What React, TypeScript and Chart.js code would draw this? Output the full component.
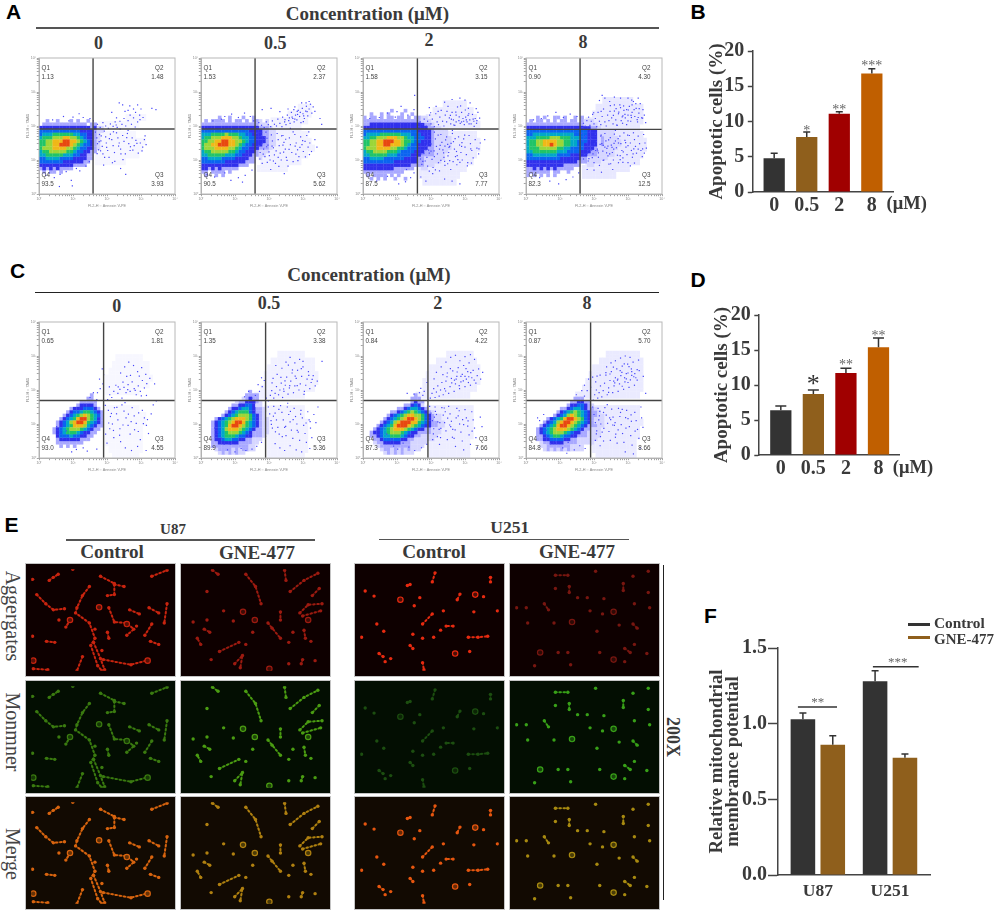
import React, { useEffect, useRef } from "react";
import { Chart, registerables } from "chart.js";
Chart.register(...registerables);

const SERIF = '"Liberation Serif"';
const SANS = '"Liberation Sans"';
const INK = "#3a3a3a";

/* ---------- flow cytometry: values ---------- */
const q1A = ["1.13", "1.53", "1.58", "0.90"];
const q2A = ["1.48", "2.37", "3.15", "4.30"];
const q3A = ["3.93", "5.62", "7.77", "12.5"];
const q4A = ["93.5", "90.5", "87.5", "82.3"];
const q1C = ["0.65", "1.35", "0.84", "0.87"];
const q2C = ["1.81", "3.38", "4.22", "5.70"];
const q3C = ["4.55", "5.36", "7.66", "8.66"];
const q4C = ["93.0", "89.9", "87.3", "84.8"];
const gateXA = [1.59, 1.59, 1.6, 1.59];
const gateYA = [1.91, 1.91, 1.91, 1.9];
const gateXC = [1.9, 1.9, 1.91, 1.9];
const gateYC = [1.69, 1.69, 1.69, 1.69];
const decades = [0, 1, 2, 3, 4];
const minorTicks = [0.3, 0.48, 0.6, 0.7, 0.78, 0.85, 0.9, 0.95];
const supers = ["\u2070", "\u00b9", "\u00b2", "\u00b3", "\u2074"];

/* density: rows from the top value down, 0.1 decade cells */
const densityColors: Record<string, string> = {
  ".": "#d6d6ff", "1": "#a8a8ff", "2": "#3030ec", "3": "#0a64f0", "4": "#00a8c8",
  "5": "#20c468", "6": "#9cd638", "7": "#f0b818", "8": "#e84810",
};
const topA = [2.15, 2.25, 2.45, 2.25];
const topC = [1.85, 1.95, 1.85, 1.75];
const leftA = [-0.15, -0.15, -0.15, -0.15];
const leftC = [-0.15, -0.15, -0.25, -0.15];
const densA0 = ["0000100100010100100", "0101111111111111011", "2222222222222222212..", "2233333333333322221..", "3334445555554433221.", "3445556667766543221.", "4455667778877654321.", "4455667788876543321.", "4456667777665433221.", "3445566666554332211", "3344555554443322110", "3333444433332222110", "2233333332222221100", "2222222222221111000", "1112121211110000000", "0101011010000000000"];
const densA1 = ["0000000100100010010000", "0001011110101101011.0.", "1111111111111111111...", "2222222222222222222111.", "2333333333333333222211..", "3344455556555443322211..", "3445566677766544332221..", "4455667788776654332221..", "4456677888776543322211..", "4456667777665433222111.", "3445566666554332221...", "3344555554443322211..", "3333444433332222110.", "2233333332222221110", "2222222222222111000", "1122121211111000000", "0111011110100000000", "0001001010000000000"];
const densA2 = ["0000000000100010000", "0000100101000100100", "0010110101101101011..", "0111111111111111111...", "1111222222222222222211.", "22222222222222222222211..", "23333333333333333322221....", "33344445555554443332221....", "34445566677766544333221.....", "44556677888776554332221.....", "44556677887776543322221.....", "44566677776655433322211.....", "34455666655543333222111....", "33445555544433332221111...", "33334444333333222211......", "22333333333222222211.....", "22222222222222221111...", "1122222222211111100..", "1111111111111100000", "0101011110101000000", "0000101010010010000"];
const densA3 = ["0000010100110100101", "0001011010101101101...", "1111111111111111111....", "22222222222222222222211.", "22333333333333333333222.....", "33334444444444443333222.....", "33444555566655544433222.1....", "34455667777665544333222.1.....", "34455667787665544332222.1.....", "34455566666554433332221......", "33445555555444333322211.....", "33334444444333322222111.....", "22333333333322222211......", "22222222222222222111....", "12222222222221111100..", "1111212121211111000", "0111111110110010000", "0010101010100000000"];
const densC0 = ["0000000000000000010000", "0000000000000000110000", "0000000000000011111000", "0000000000000122221000", "0000000000012223332100", "0000000000123345543210", "0000000001234567654310", "0000000012345788654210", "0000000123467887543210", "0000000123457776432110", "0000001234566654321100", "0000001234555432211000", "0000000233343322110000", "0000000122222211100000", "0000000111111110000000", "0000000010101000000000"];
const densC1 = ["0000000000000000100", "0000000000000001111", "00000000000000.1211", "000000000000.112221.", "000000000001122332..", "00000000001223443211.", "00000000012345553211.", "00000000123456665321.", "00000012345677765321..", "00000123456788754321..", "00000123457887654321..", "00000123467776543211..", "00000123456665432111..", "00000123455543322111.", "00000122344332211...", "00000112222221111..", "0000011111111111..", "000000.1111.1.11..", "0000000.1.1.1.."];
const densC2 = ["0000000000000000001", "00000000000000000111", "000000000000000001211", "00000000000000011232.", "0000000000000112344321", "00000000000112345654321.", "000000000012345677665321..", "000000000123456788765321..", "0000000012346788877543211..", "0000000123457888765432211..", "00000012345677765432211...", "00000122345666543221111...", "00000112344555432211.....", "000000112333332211......", "000000.1122222111.....", "0000000.111111111....", "00000000.11.1.1.1...", "000000000.1.1.1..."];
const densC3 = ["00000000000000001110", "000000000000000112211", "000000000000001223321.", "0000000000001123443211.", "00000000000123456543211.", "00000000001234676543211..", "0000000012345788765321...", "0000000123467887654321...", "00000012345788765432111..", "000001234567776543211...", "00000123456665432211....", "00000112345543322111....", "00000112233332211......", "000000.1122221111.....", "000000..1111111....", "0000000.1.1.1.1...."];

/* pale event cloud: [y, xFrom, xTo] rows */
const hazeColors = ["#f6f6ff", "#f1f1ff", "#ebebff", "#e8e8ff", "#f7f7ff", "#f1f1ff", "#ededff", "#eaeaff"];
const hazeA0 = [[2.3,2.6,3.1],[2.1,1.8,2.9],[1.8,1.7,2.8],[1.6,1.7,3.1],[1.4,1.7,3.0],[1.2,1.7,2.9],[1.0,1.7,2.5]];
const hazeA1 = [[2.6,2.9,3.2],[2.4,2.6,3.2],[2.2,2.1,3.1],[2.0,1.7,2.9],[1.8,1.8,3.1],[1.6,1.9,3.2],[1.4,1.9,3.3],[1.2,1.8,3.1],[1.0,1.8,2.9],[0.8,1.7,2.5]];
const hazeA2 = [[2.7,2.4,3.0],[2.5,2.1,3.2],[2.3,1.9,3.3],[2.1,1.8,3.4],[1.8,1.9,3.3],[1.6,1.9,3.4],[1.4,1.9,3.4],[1.2,1.9,3.3],[1.0,1.8,3.2],[0.8,1.7,3.0],[0.6,1.7,2.8],[0.4,1.8,2.7]];
const hazeA3 = [[2.8,2.3,3.1],[2.6,2.1,3.4],[2.4,2.0,3.4],[2.2,1.8,3.4],[2.0,1.8,3.3],[1.8,1.9,3.4],[1.6,2.0,3.5],[1.4,2.0,3.5],[1.2,1.9,3.4],[1.0,1.8,3.3],[0.8,1.7,3.0],[0.6,1.7,2.6]];
const hazeC0 = [[3.0,2.3,3.0],[2.8,2.2,3.2],[2.6,2.1,3.2],[2.4,2.0,3.3],[2.2,2.0,3.2],[2.0,2.0,2.9],[1.5,2.0,2.9],[1.3,2.0,3.1],[1.1,2.0,3.1],[0.9,2.0,3.0],[0.7,2.0,3.0],[0.5,2.0,3.0],[0.3,2.1,3.0],[0.1,2.2,2.9]];
const hazeC1 = [[3.1,2.3,3.0],[2.9,2.1,3.3],[2.7,2.0,3.3],[2.5,1.9,3.4],[2.3,1.9,3.4],[2.1,1.8,3.3],[1.9,1.6,3.0],[1.5,1.9,3.0],[1.3,2.0,3.0],[1.1,2.0,3.1],[0.9,2.0,3.1],[0.7,2.0,3.1],[0.5,2.0,3.1],[0.3,2.0,3.1],[0.1,2.0,3.0]];
const hazeC2 = [[3.1,2.5,3.2],[2.9,2.2,3.3],[2.7,2.0,3.4],[2.5,1.9,3.4],[2.3,1.8,3.4],[2.1,1.8,3.3],[1.9,1.6,3.1],[1.5,1.9,3.2],[1.3,1.9,3.2],[1.1,2.0,3.2],[0.9,2.0,3.2],[0.7,2.0,3.2],[0.5,2.0,3.1],[0.3,2.0,3.1],[0.1,2.0,3.1]];
const hazeC3 = [[3.1,2.4,3.3],[2.9,2.2,3.4],[2.7,2.0,3.4],[2.5,1.9,3.4],[2.3,1.8,3.4],[2.1,1.7,3.4],[1.9,1.5,3.3],[1.5,1.8,3.3],[1.3,1.9,3.3],[1.1,1.9,3.4],[0.9,1.9,3.3],[0.7,2.0,3.3],[0.5,2.0,3.2],[0.3,2.0,3.2],[0.1,2.1,3.2]];

/* single events, in hundredths of a decade */
const specksA0 = [[165,198],[172,205],[180,196],[188,210],[196,200],[204,193],[210,206],[218,199],[224,212],[230,196],[238,214],[244,205],[250,222],[255,200],[262,216],[268,232],[272,205],[278,224],[284,240],[290,212],[296,232],[300,250],[306,225],[246,262],[236,268],[262,246],[332,252],[344,248],[228,224],[214,240],[290,262],[278,250],[166,182],[170,165],[172,148],[175,130],[178,175],[182,156],[186,140],[188,118],[192,185],[196,168],[198,150],[202,128],[206,108],[210,176],[214,160],[218,142],[222,122],[228,180],[232,165],[236,150],[240,132],[246,172],[250,155],[254,118],[260,178],[264,148],[268,128],[274,165],[280,142],[285,158],[292,120],[298,150],[305,138],[310,160],[315,145],[216,92],[240,75],[255,58],[190,85],[30,62],[62,58],[95,40],[45,48],[120,68],[138,82],[110,75],[80,66],[148,95],[60,22],[98,24],[20,55],[72,228],[100,226],[118,236],[130,225],[150,222],[160,215],[40,218],[88,215],[183,171],[241,118],[207,163],[276,129],[199,137],[312,171],[223,96],[262,187],[171,119],[288,149],[234,141],[193,108],[258,166],[303,127],[177,154],[219,183],[247,101],[269,139],[181,127],[227,203],[283,197],[253,243],[267,259],[239,191],[297,219]];
const specksA1 = [[165,195],[170,210],[178,202],[186,195],[192,212],[198,204],[205,198],[210,215],[216,205],[222,200],[226,220],[232,208],[238,198],[240,226],[246,212],[250,204],[254,232],[258,216],[262,208],[266,240],[270,222],[274,212],[278,232],[282,218],[286,246],[290,228],[294,210],[298,252],[300,236],[304,222],[308,244],[310,258],[314,230],[318,250],[322,264],[326,238],[330,256],[318,272],[296,268],[276,256],[256,250],[232,242],[206,252],[180,248],[350,222],[355,205],[268,226],[284,234],[292,240],[276,220],[260,224],[302,230],[312,242],[164,178],[168,160],[171,142],[174,122],[178,172],[181,150],[184,132],[188,110],[191,182],[194,164],[197,144],[200,124],[203,100],[207,174],[210,156],[213,136],[216,115],[219,90],[224,178],[227,160],[230,142],[233,120],[236,100],[241,172],[244,152],[248,132],[251,108],[256,82],[260,165],[263,145],[267,122],[271,95],[276,175],[280,150],[284,130],[288,110],[293,168],[297,145],[301,125],[306,155],[311,172],[315,138],[320,150],[325,125],[335,160],[245,60],[205,72],[180,90],[150,70],[130,55],[110,48],[88,40],[70,62],[40,50],[18,58],[122,35],[70,228],[90,235],[110,225],[128,238],[145,228],[155,215],[60,220],[35,215],[187,167],[243,123],[209,141],[279,117],[173,103],[317,183],[229,81],[263,193],[201,113],[291,137],[237,171],[195,93],[259,131],[307,109],[179,147],[221,127],[249,161],[271,183],[183,117],[341,138],[227,108],[277,141],[213,97],[299,157],[169,131],[253,99],[285,98],[319,116],[193,139],[241,144],[247,219],[283,243],[301,213],[273,248],[335,243],[309,268]];
const specksA2 = [[164,198],[168,212],[174,204],[180,220],[186,200],[190,214],[196,232],[200,206],[204,220],[210,198],[214,236],[218,212],[222,204],[226,226],[230,246],[234,214],[238,200],[242,232],[246,212],[250,258],[254,224],[258,206],[262,240],[266,218],[270,202],[274,232],[278,256],[282,216],[286,208],[290,240],[294,222],[298,204],[302,226],[306,212],[310,252],[314,218],[318,206],[322,234],[326,214],[330,222],[334,208],[338,240],[285,282],[262,278],[240,270],[300,276],[315,268],[215,258],[195,254],[290,212],[274,212],[260,220],[296,214],[312,206],[304,218],[324,220],[335,216],[165,180],[168,160],[171,140],[173,118],[176,96],[179,176],[182,152],[185,130],[188,108],[190,82],[194,172],[197,148],[200,126],[203,102],[206,78],[210,182],[213,162],[216,140],[219,118],[222,92],[225,68],[229,175],[232,152],[235,130],[238,108],[241,84],[246,168],[249,146],[252,122],[255,98],[258,72],[263,178],[266,154],[269,132],[272,110],[276,86],[281,168],[284,144],[288,122],[292,100],[296,162],[300,138],[304,116],[308,92],[312,172],[316,148],[320,128],[324,106],[330,160],[335,135],[340,118],[345,150],[358,160],[195,120],[210,110],[225,132],[240,96],[255,140],[275,125],[290,140],[250,112],[265,95],[205,60],[170,50],[185,38],[150,62],[140,48],[125,36],[105,30],[240,44],[262,38],[285,30],[128,72],[72,52],[40,38],[72,238],[100,242],[112,258],[132,232],[150,248],[95,226],[48,225],[20,222],[152,290],[187,143],[243,159],[209,127],[279,101],[173,87],[317,133],[229,99],[263,187],[201,147],[291,151],[237,121],[195,67],[259,149],[307,83],[179,119],[221,173],[249,89],[271,163],[183,97],[341,133],[227,143],[277,113],[213,71],[299,173],[169,103],[253,137],[285,93],[319,91],[193,129],[241,141],[247,243],[283,227],[301,247],[273,241],[333,251],[309,231],[221,243],[257,231],[199,239],[267,203],[327,199],[287,259],[311,236],[343,223]];
const specksA3 = [[165,195],[169,208],[174,200],[179,216],[184,226],[188,202],[192,214],[196,234],[200,206],[204,222],[208,198],[212,240],[216,214],[220,204],[224,228],[228,250],[232,212],[236,200],[240,232],[244,216],[248,260],[252,224],[256,206],[260,244],[264,218],[268,202],[272,236],[276,262],[280,216],[284,208],[288,246],[292,224],[296,204],[300,232],[304,258],[308,214],[312,240],[316,272],[320,228],[324,252],[328,212],[332,238],[336,266],[340,224],[344,248],[216,275],[232,282],[246,272],[260,262],[278,254],[296,248],[312,262],[330,282],[300,282],[278,282],[260,285],[224,290],[352,210],[348,232],[300,215],[285,230],[310,225],[318,248],[330,225],[164,178],[167,156],[170,136],[173,116],[176,172],[179,150],[182,128],[185,104],[188,182],[191,162],[194,140],[197,118],[200,92],[204,176],[207,154],[210,132],[213,108],[216,84],[220,170],[223,148],[226,126],[229,100],[232,178],[235,156],[238,134],[241,112],[244,88],[248,166],[251,144],[254,122],[257,100],[260,176],[263,156],[266,136],[269,114],[272,92],[276,170],[279,148],[282,128],[285,106],[288,180],[291,158],[294,138],[297,116],[300,92],[304,172],[307,150],[310,128],[313,108],[316,180],[319,160],[322,140],[325,120],[330,170],[334,148],[338,128],[342,110],[346,175],[350,150],[354,135],[348,120],[205,128],[218,146],[232,138],[246,118],[258,132],[272,150],[286,124],[300,142],[315,118],[330,132],[200,70],[222,64],[180,72],[155,62],[138,50],[118,42],[96,30],[70,38],[40,48],[255,72],[64,230],[88,240],[110,225],[130,235],[150,228],[45,222],[22,218],[189,143],[243,159],[211,127],[277,101],[173,167],[317,133],[227,99],[263,187],[201,147],[293,151],[237,121],[195,107],[259,149],[307,83],[181,119],[221,173],[249,89],[271,163],[183,97],[343,133],[227,143],[277,113],[213,121],[299,173],[169,103],[253,137],[285,93],[319,91],[193,129],[241,141],[247,243],[283,227],[301,247],[273,241],[333,251],[309,231],[221,243],[257,231],[199,239],[267,203],[327,219],[287,259],[311,276],[343,223],[323,266],[291,234],[265,251]];
const specksC0 = [[202,172],[208,186],[214,178],[220,196],[226,214],[232,190],[238,202],[244,176],[250,208],[256,192],[262,216],[268,196],[274,224],[280,204],[286,186],[292,212],[298,196],[304,228],[310,206],[316,184],[240,250],[252,268],[264,282],[278,272],[290,254],[302,266],[314,246],[326,234],[340,218],[258,240],[188,218],[180,204],[172,192],[186,262],[178,232],[190,245],[160,192],[150,178],[170,172],[195,155],[204,140],[210,122],[216,100],[222,148],[228,130],[232,112],[238,86],[244,156],[250,138],[256,118],[262,96],[268,70],[274,148],[280,124],[286,102],[292,78],[298,54],[304,140],[310,118],[316,96],[322,72],[330,130],[336,156],[345,168],[220,60],[240,48],[254,30],[272,22],[290,34],[315,22],[200,44],[196,70],[208,86],[130,30],[110,25],[96,18],[142,20],[170,26],[80,80],[62,76],[52,92],[70,58],[213,131],[247,97],[229,149],[281,83],[205,103],[263,129],[307,101],[237,67],[219,81],[271,107],[293,133],[319,113],[253,163],[283,199],[247,223],[301,183],[269,243],[233,209],[317,219],[261,201],[295,241],[207,209]];
const specksC1 = [[198,168],[204,184],[208,198],[214,176],[218,190],[222,210],[228,186],[232,200],[236,220],[240,178],[244,196],[248,214],[252,238],[256,188],[260,206],[264,226],[268,250],[272,192],[276,212],[280,234],[284,258],[288,200],[292,218],[296,240],[300,268],[304,196],[308,214],[312,232],[316,254],[320,204],[324,222],[330,242],[336,212],[342,226],[212,234],[224,246],[238,264],[250,282],[262,296],[276,280],[290,290],[220,272],[300,284],[356,284],[180,210],[172,196],[186,228],[160,184],[150,176],[178,236],[168,216],[192,176],[140,196],[128,180],[198,150],[202,130],[206,110],[210,88],[214,152],[218,132],[222,112],[226,90],[230,70],[234,154],[238,134],[242,112],[246,90],[250,66],[254,150],[258,128],[262,106],[266,82],[270,58],[274,146],[278,122],[282,100],[286,76],[290,52],[294,140],[298,118],[302,96],[306,72],[310,46],[314,136],[318,112],[322,88],[326,60],[332,128],[338,104],[344,150],[218,42],[232,30],[246,22],[262,36],[280,24],[296,18],[320,28],[190,64],[178,46],[164,34],[150,26],[132,22],[118,28],[100,18],[78,24],[60,58],[50,76],[40,88],[68,40],[86,40],[213,123],[249,93],[229,143],[283,81],[207,99],[263,137],[309,103],[239,63],[219,77],[271,113],[293,129],[321,107],[255,161],[283,213],[247,227],[303,187],[269,259],[235,237],[317,243],[261,213],[295,263],[209,221],[243,203],[277,241],[327,231],[257,273]];
const specksC2 = [[198,176],[203,190],[208,204],[212,178],[216,194],[220,212],[224,182],[228,200],[232,222],[236,186],[240,204],[244,226],[248,250],[252,190],[256,210],[260,234],[264,256],[268,196],[272,218],[276,240],[280,266],[284,204],[288,224],[292,246],[296,272],[300,210],[304,232],[308,254],[312,280],[316,214],[320,236],[324,258],[328,290],[332,220],[336,242],[340,262],[346,232],[352,252],[300,298],[285,286],[272,302],[258,296],[244,282],[230,268],[216,252],[316,304],[288,240],[300,240],[310,222],[274,232],[180,196],[176,184],[170,205],[188,222],[166,192],[150,188],[192,170],[130,190],[196,152],[200,132],[204,110],[208,86],[212,150],[216,128],[220,106],[224,84],[228,60],[232,148],[236,126],[240,104],[244,80],[248,54],[252,152],[256,130],[260,108],[264,84],[268,58],[272,34],[276,146],[280,124],[284,100],[288,76],[292,50],[296,24],[300,142],[304,118],[308,94],[312,68],[316,40],[320,136],[324,112],[328,88],[332,60],[336,30],[345,120],[350,92],[210,120],[226,104],[242,136],[258,92],[274,118],[296,98],[225,40],[205,54],[188,40],[172,30],[152,22],[135,32],[118,44],[102,26],[85,52],[70,70],[62,86],[48,94],[90,35],[213,137],[249,117],[229,87],[283,139],[207,71],[263,61],[309,109],[239,147],[219,63],[271,83],[293,113],[321,79],[255,97],[283,213],[247,239],[303,263],[269,229],[235,245],[317,251],[261,221],[295,227],[209,233],[243,197],[277,253],[327,229],[257,263],[311,239]];
const specksC3 = [[198,170],[202,186],[207,200],[211,176],[215,192],[219,212],[223,180],[227,198],[231,220],[235,244],[239,186],[243,206],[247,228],[251,254],[255,192],[259,212],[263,236],[267,262],[271,196],[275,218],[279,242],[283,270],[287,202],[291,224],[295,248],[299,276],[303,208],[307,230],[311,254],[315,282],[319,214],[323,236],[327,260],[331,288],[237,268],[250,280],[263,286],[278,294],[292,300],[306,296],[218,244],[205,224],[190,208],[180,198],[172,214],[184,232],[164,198],[148,186],[172,182],[196,238],[290,236],[300,250],[282,252],[310,262],[270,232],[320,248],[258,226],[300,222],[345,240],[352,190],[196,150],[200,128],[204,104],[208,80],[212,146],[216,124],[220,100],[224,76],[228,50],[232,148],[236,126],[240,102],[244,78],[248,52],[252,144],[256,120],[260,96],[264,70],[268,44],[272,146],[276,122],[280,98],[284,72],[288,46],[292,18],[296,140],[300,116],[304,92],[308,66],[312,38],[316,12],[320,134],[324,110],[328,84],[332,58],[336,30],[340,118],[344,90],[338,150],[228,134],[214,112],[246,118],[262,104],[278,134],[294,88],[310,108],[218,36],[204,52],[190,38],[174,28],[158,36],[142,24],[124,46],[108,30],[88,48],[62,60],[60,82],[56,100],[72,42],[40,110],[52,128],[34,118],[120,14],[217,137],[249,113],[229,87],[283,143],[207,71],[263,61],[309,127],[239,157],[219,63],[271,83],[293,119],[321,79],[255,97],[283,211],[247,247],[303,269],[269,229],[235,251],[317,239],[261,221],[295,233],[209,241],[243,193],[277,257],[327,229],[257,267],[311,243],[333,257],[289,277]];

/* ---------- bar panels: values ---------- */
const concLabels = ["0", "0.5", "2", "8"];
const concColors = ["#333333", "#8f5f1c", "#a00000", "#c05f00"];
const bValues = [4.8, 7.8, 11.1, 16.8];
const bErrTop = [5.5, 8.5, 11.4, 17.5];
const bStars = ["", "*", "**", "***"];
const bStarAt = [0, 9.0, 12.0, 18.2];
const dValues = [6.4, 8.7, 11.7, 15.4];
const dErrTop = [7.0, 9.3, 12.4, 16.7];
const dStars = ["", "*", "**", "**"];
const dStarAt = [0, 10.7, 13.2, 17.4];
const fCats = ["U87", "U251"];
const fSeries = ["Control", "GNE-477"];
const fColors = ["#333333", "#8f5f1c"];
const fControl = [1.03, 1.28];
const fGne = [0.86, 0.775];
const fControlErr = [1.07, 1.35];
const fGneErr = [0.92, 0.8];
const fSigStars = ["**", "***"];
const fSigY = [1.11, 1.376];
const fSigFrom = [-0.276, 0.763];
const fSigTo = [0.266, 1.397];

/* ---------- micrographs: traced cell chains in % of each field ---------- */
type P = number[];
const chainsU87C: P[][] = [[[13,11],[16,8],[19.5,5]],[[4,25],[10.5,34],[16,40],[24,39]],[[50,7],[60,14],[60,25],[55,26]],[[60,15],[67,17]],[[42,17],[37,26],[33,38],[32,43],[42,53],[46,68],[43,75],[48,95],[51,100]],[[45,72],[50,88],[53,99]],[[56,38],[60,52],[69,53],[74,59],[69,65]],[[71,40],[78,44]],[[85,38],[92,43]],[[98,34],[96,53]],[[87,54],[82,65]],[[55,62],[56,68]],[[86,71],[92,74]],[[11,71],[17,72]],[[37,86],[33,100]],[[52,89],[72,94],[83,90]],[[1.5,98],[12,99]],[[87,7],[98,1]],[[20,50]],[[1,66]],[[1,10]],[[30,0]],[[28,50],[25,57]],[[46,59]],[[51,80]],[[76,56]]];
const ringsU87C: P[] = [[49,37.5],[28,50],[69,54],[84,90],[1.5,90]];
const chainsU87G: P[][] = [[[19,1],[23,5]],[[43,5],[50,17],[54,34]],[[71,1],[72,11]],[[75,22],[85,11],[95,4]],[[96,19],[91,26]],[[82,43],[88,35],[98,34]],[[84,46],[97,41]],[[68,42],[68,50]],[[59,53],[68,68]],[[13,59],[17,62]],[[15,50]],[[27,41]],[[34,51]],[[15,22]],[[5,52]],[[10.5,74],[8,68]],[[24,81],[38,72]],[[35,93],[40.6,85],[39,97]],[[18,89]],[[84,89],[83,93]],[[93,90]],[[85,60],[86,68]],[[74,72]],[[90,71]],[[74,93]],[[48,62]],[[43,74]],[[62,58]],[[77,62]]];
const ringsU87G: P[] = [[41,42],[49.5,50],[60,98],[88,50]];
const chainsU251C: P[][] = [[[34,16],[36,15]],[[3.6,21.5]],[[10,26.5]],[[43,28]],[[39,36]],[[54,3.6],[52,12.5]],[[94,8],[94,12.5]],[[72,24.5],[70,30]],[[89,27]],[[82,42]],[[60,41]],[[12,54]],[[17,61]],[[45,54],[52,44]],[[38,64]],[[45,68]],[[53,67]],[[58,60]],[[67,56],[62,56]],[[78,67],[85,67],[92,66]],[[36,75],[38,78]],[[13.6,83],[16.5,86]],[[18,91]],[[22,88]],[[79,81]],[[45,92],[46,99]],[[1,67]],[[99,41]]];
const ringsU251C: P[] = [[29,30],[83,25],[68.5,83]];
const chainsU251G: P[][] = [[[29,6],[38,6]],[[58,2]],[[85,7]],[[96,2]],[[29,19]],[[39,17],[39,23]],[[45,28]],[[52,28]],[[64,29]],[[78,14],[78,21]],[[96,23]],[[86,34]],[[97,38]],[[21,34],[24,40]],[[8,38]],[[54,41]],[[63,44]],[[9,53]],[[28,53]],[[75,55]],[[85,54],[88,58]],[[59,61]],[[86,74]],[[31,82]],[[38,82]],[[61,82]],[[79,78],[83,82]],[[95,83]],[[14,95]],[[40,94]],[[1,38]],[[79,91]]];
const ringsU251G: P[] = [[71,42],[41,52],[18,82],[71,89]];
const fieldChains = [chainsU87C, chainsU87G, chainsU251C, chainsU251G];
const fieldRings = [ringsU87C, ringsU87G, ringsU251C, ringsU251G];
const fieldBg = ["#0e0000", "#030e02", "#120a02"];
const fieldInk = [
  ["#c8240f", "#9c1a10", "#e62a10", "#781610"],
  ["#3a7a10", "#4a9c12", "#1c4e10", "#38a018"],
  ["#d8640f", "#b08010", "#e6560f", "#a88a10"],
];
const fieldDim = [
  ["#5a1006", "#3e0c06", "#4a0e06", "#2e0a06"],
  ["#163806", "#1e4408", "#0c2406", "#16460a"],
  ["#663206", "#4a3a08", "#662a08", "#483c08"],
];

/* ---------- helpers ---------- */
const Txt = ({ x, y, s, size, bold = true, rot = 0, color = INK, font = SERIF, left = false }: any) => (
  <div style={{ position: "absolute", left: x, top: y, whiteSpace: "nowrap", lineHeight: 1, fontFamily: font, fontSize: size, fontWeight: bold ? 700 : 400, color, transform: `translate(${left ? "0" : "-50%"},-50%) rotate(${rot}deg)` }}>{s}</div>
);
const Rule = ({ x1, x2, y, h = 1.5, color = "#555" }: any) => (
  <div style={{ position: "absolute", left: x1, top: y - h / 2, width: x2 - x1, height: h, background: color }} />
);

function useChart(make: () => any) {
  const ref = useRef<HTMLCanvasElement>(null);
  useEffect(() => {
    const c = new Chart(ref.current as any, make());
    return () => c.destroy();
  }, []);
  return ref;
}
const noPad = (s: any) => { s.paddingTop = s.paddingBottom = s.paddingLeft = s.paddingRight = 0; };

function Flow({ px, py, rows, top, x0, haze, hazeColor, specks, gx, gy, q1, q2, q3, q4 }: any) {
  const pad = { t: 4, r: 6 }, yW = 13, xH = 14, size = 136.3;
  const ref = useChart(() => {
    const levels: Record<string, any[]> = {};
    rows.forEach((row: string, r: number) => row.split("").forEach((ch, c) => {
      if (ch === "0") return;
      (levels[ch] = levels[ch] || []).push({ x: x0 + c * 0.1, y: top - r * 0.1 });
    }));
    const cellSets = Object.keys(densityColors).filter((k) => levels[k]).map((k, i) => ({
      data: levels[k], backgroundColor: densityColors[k], pointStyle: "rect", pointRadius: 2.6, pointBorderWidth: 0, borderWidth: 0, clip: 0, order: 30 - i,
    }));
    const hazeCells: any[] = [];
    haze.forEach(([y, a, b]: number[]) => {
      for (let n = 0; a + n * 0.1 <= b + 1e-6; n++) { hazeCells.push({ x: a + n * 0.1, y }); hazeCells.push({ x: a + n * 0.1, y: y - 0.1 }); }
    });
    const quadPlugin = {
      id: "quad",
      afterDraw(ch: any) {
        const { left, right, top: t, bottom } = ch.chartArea, c = ch.ctx;
        c.save();
        c.strokeStyle = "#b8b8b8"; c.lineWidth = 1; c.strokeRect(left, t, right - left, bottom - t);
        c.fillStyle = "#444"; c.font = `6.3px ${SANS}`; c.textBaseline = "middle";
        c.textAlign = "left";
        c.fillText("Q1", left + 2.5, t + 10); c.fillText(q1, left + 2.5, t + 19.7);
        c.fillText("Q4", left + 2.5, bottom - 19); c.fillText(q4, left + 2.5, bottom - 9.7);
        c.textAlign = "right";
        c.fillText("Q2", right - 11.5, t + 10); c.fillText(q2, right - 11.5, t + 19.7);
        c.fillText("Q3", right - 11.5, bottom - 19); c.fillText(q3, right - 11.5, bottom - 9.7);
        c.restore();
      },
    };
    const axis = (title: string, fit: (s: any) => void) => ({
      type: "linear", min: 0, max: 4,
      afterBuildTicks: (s: any) => { const v: number[] = []; decades.forEach((d) => { v.push(d); if (d < 4) minorTicks.forEach((m) => v.push(d + m)); }); s.ticks = v.map((value) => ({ value })); },
      ticks: { autoSkip: false, maxRotation: 0, padding: 0.5, color: "#888", font: { size: 3.6, family: SANS, lineHeight: 1 }, callback: (v: number) => (Number.isInteger(v) ? "10" + supers[v] : "") },
      grid: { drawOnChartArea: false, tickLength: 2.2, tickColor: "#666", tickWidth: 0.6 },
      border: { display: true, color: "#777", width: 0.6 },
      title: { display: true, text: title, color: "#888", padding: 0, font: { size: 3.8, family: SANS, lineHeight: 1 } },
      afterFit: (s: any) => { fit(s); noPad(s); },
    });
    return {
      type: "scatter",
      data: {
        datasets: [
          { data: [{ x: gx, y: 0 }, { x: gx, y: 4 }], showLine: true, borderColor: "#444", borderWidth: 1.4, pointRadius: 0, order: 0 },
          { data: [{ x: 0, y: gy }, { x: 4, y: gy }], showLine: true, borderColor: "#444", borderWidth: 1.4, pointRadius: 0, order: 0 },
          { data: specks.map((p: number[]) => ({ x: p[0] / 100, y: p[1] / 100 })), backgroundColor: "#4646fa", pointStyle: "rect", pointRadius: 0.85, borderWidth: 0, clip: 0, order: 1 },
          ...cellSets,
          { data: hazeCells, backgroundColor: hazeColor, pointStyle: "rect", pointRadius: 2.6, borderWidth: 0, clip: 0, order: 40 },
        ],
      },
      options: {
        animation: false, responsive: false,
        layout: { padding: { top: pad.t, right: pad.r, left: 0, bottom: 0 } },
        plugins: { legend: { display: false }, tooltip: { enabled: false } },
        scales: { x: axis("FL2-H :: Annexin V-PE", (s) => { s.height = xH; }), y: axis("FL3-H :: 7AAD", (s) => { s.width = yW; }) },
      },
      plugins: [quadPlugin],
    };
  });
  return <canvas ref={ref} width={yW + size + pad.r} height={pad.t + size + xH} style={{ position: "absolute", left: px - yW, top: py - pad.t, filter: "blur(0.55px)" }} />;
}

function Bars({ x1, x2, y1, y2, titleX, titleLh, title, titleSize, yMax, step, digits, tickLen, tickPad, xMin, xMax, xH, xPad, xSize, cats, sets, capHalf, barPct, catPct, marks, lines }: any) {
  const padR = 8, padT = 15;
  const canvasLeft = titleX - titleLh / 2;
  const yW = x1 - canvasLeft;
  const ref = useChart(() => {
    const plugin = {
      id: "marks",
      afterDatasetsDraw(ch: any) {
        const c = ch.ctx, xs = ch.scales.x, ys = ch.scales.y;
        c.save();
        c.strokeStyle = "#333"; c.lineWidth = 1.5;
        sets.forEach((set: any, d: number) => set.err.forEach((e: number, i: number) => {
          const el = ch.getDatasetMeta(d).data[i];
          const ty = ys.getPixelForValue(e);
          c.beginPath(); c.moveTo(el.x, el.y); c.lineTo(el.x, ty); c.moveTo(el.x - capHalf, ty); c.lineTo(el.x + capHalf, ty); c.stroke();
        }));
        (lines || []).forEach((l: any) => {
          const y = ys.getPixelForValue(l.y);
          c.strokeStyle = "#333"; c.beginPath(); c.moveTo(xs.getPixelForValue(l.from), y); c.lineTo(xs.getPixelForValue(l.to), y); c.stroke();
        });
        c.textAlign = "center"; c.textBaseline = "alphabetic";
        (marks || []).forEach((m: any) => {
          if (!m.text) return;
          c.font = `${m.size}px ${SERIF}`; c.fillStyle = m.color || "#666";
          c.fillText(m.text, xs.getPixelForValue(m.x), ys.getPixelForValue(m.y) + 0.47 * m.size);
        });
        c.restore();
      },
    };
    return {
      type: "bar",
      data: {
        datasets: sets.map((set: any) => ({
          label: set.name,
          data: set.values.map((v: number, i: number) => ({ x: i, y: v })),
          backgroundColor: set.colors, borderWidth: 0, barPercentage: barPct, categoryPercentage: catPct,
        })),
      },
      options: {
        animation: false, responsive: false,
        layout: { padding: { top: padT, right: padR, left: 0, bottom: 0 } },
        plugins: { legend: { display: false }, tooltip: { enabled: false } },
        scales: {
          x: {
            type: "linear", min: xMin, max: xMax, offset: false,
            afterBuildTicks: (s: any) => { s.ticks = cats.map((_: string, value: number) => ({ value })); },
            ticks: { autoSkip: false, maxRotation: 0, padding: xPad, color: INK, font: { size: xSize, weight: "bold", family: SERIF, lineHeight: 1 }, callback: (v: number) => cats[v] },
            grid: { display: false, drawTicks: false },
            border: { display: true, color: "#444", width: 1.5 },
            afterFit: (s: any) => { s.height = xH; noPad(s); },
          },
          y: {
            min: 0, max: yMax,
            afterBuildTicks: (s: any) => { const t = []; for (let i = 0; i * step <= yMax + 1e-9; i++) t.push({ value: i * step }); s.ticks = t; },
            ticks: { autoSkip: false, padding: tickPad, color: INK, font: { size: 20, weight: "bold", family: SERIF, lineHeight: 1 }, callback: (v: number) => v.toFixed(digits) },
            grid: { drawOnChartArea: false, tickLength: tickLen, tickColor: "#444", tickWidth: 1.5 },
            border: { display: true, color: "#444", width: 1.5 },
            title: { display: true, text: title, color: INK, padding: 0, font: { size: titleSize, weight: "bold", family: SERIF, lineHeight: titleLh / titleSize } },
            afterFit: (s: any) => { s.width = yW; noPad(s); },
          },
        },
      },
      plugins: [plugin],
    };
  });
  return <canvas ref={ref} width={x2 - canvasLeft + padR} height={padT + (y2 - y1) + xH} style={{ position: "absolute", left: canvasLeft, top: y1 - padT, filter: "blur(0.3px)" }} />;
}

function Field({ x, y, w, h, row, col }: any) {
  const ref = useChart(() => {
    const flat: any[] = [];
    fieldChains[col].forEach((ch) => { ch.forEach((p) => flat.push({ x: p[0], y: p[1] })); flat.push({ x: NaN, y: NaN }); });
    return {
      type: "scatter",
      data: {
        datasets: [
          { data: fieldRings[col].map((p) => ({ x: p[0], y: p[1] })), pointRadius: 2.7, pointBackgroundColor: fieldDim[row][col], pointBorderColor: fieldInk[row][col], pointBorderWidth: 1.2, order: 1 },
          { data: flat, showLine: true, spanGaps: false, borderColor: fieldInk[row][col], borderWidth: 2, borderDash: [1.2, 3], borderCapStyle: "round", pointRadius: 1.7, pointBackgroundColor: fieldInk[row][col], pointBorderWidth: 0, order: 2 },
          { data: flat, showLine: true, spanGaps: false, borderColor: fieldDim[row][col], borderWidth: 1.6, pointRadius: 0, order: 3 },
        ],
      },
      options: {
        animation: false, responsive: false,
        layout: { padding: 0 },
        plugins: { legend: { display: false }, tooltip: { enabled: false } },
        scales: { x: { display: false, min: 0, max: 100 }, y: { display: false, min: 0, max: 100, reverse: true } },
      },
    };
  });
  return (
    <div style={{ position: "absolute", left: x, top: y, width: w, height: h, overflow: "hidden", background: fieldBg[row], outline: "1px solid #c4c4c4" }}>
      <canvas ref={ref} width={w} height={h} style={{ display: "block", filter: "blur(0.75px)" }} />
    </div>
  );
}

const flowXs = [39.4, 201.4, 363.3, 525.7];
const fieldXs = [26, 181, 355, 510];
const fieldYs = [564, 681, 797];
const conc = concLabels;

export default function App() {
  const A = [densA0, densA1, densA2, densA3], AS = [specksA0, specksA1, specksA2, specksA3], AH = [hazeA0, hazeA1, hazeA2, hazeA3];
  const C = [densC0, densC1, densC2, densC3], CS = [specksC0, specksC1, specksC2, specksC3], CH = [hazeC0, hazeC1, hazeC2, hazeC3];
  return (
    <div style={{ position: "absolute", left: 0, top: 0, width: 996, height: 911, background: "#fff", overflow: "hidden" }}>
      {/* letters */}
      <Txt x={13.5} y={11} s="A" size={21} font={SANS} color="#000" />
      <Txt x={698} y={11} s="B" size={21} font={SANS} color="#000" />
      <Txt x={17.5} y={270} s="C" size={21} font={SANS} color="#000" />
      <Txt x={698} y={279} s="D" size={21} font={SANS} color="#000" />
      <Txt x={11.5} y={523.5} s="E" size={21} font={SANS} color="#000" />
      <Txt x={710.5} y={615} s="F" size={21} font={SANS} color="#000" />

      {/* A */}
      <Txt x={367.5} y={13} s="Concentration (μM)" size={19} />
      <Rule x1={35.7} x2={659.3} y={28} />
      {[98.5, 275.3, 429, 583].map((x, i) => <Txt key={i} x={x} y={[42.7, 42.7, 40, 42][i]} s={conc[i]} size={18} />)}
      {flowXs.map((x, i) => <Flow key={i} px={x} py={57.8} rows={A[i]} top={topA[i]} x0={leftA[i]} haze={AH[i]} hazeColor={hazeColors[i]} specks={AS[i]} gx={gateXA[i]} gy={gateYA[i]} q1={q1A[i]} q2={q2A[i]} q3={q3A[i]} q4={q4A[i]} />)}

      {/* C */}
      <Txt x={369} y={274} s="Concentration (μM)" size={19} />
      <Rule x1={35} x2={658.7} y={292.3} color="#222" />
      {[116.7, 269, 437.7, 587].map((x, i) => <Txt key={i} x={x} y={[305.7, 303, 303, 302.7][i]} s={conc[i]} size={18} />)}
      {flowXs.map((x, i) => <Flow key={i} px={x} py={321.6} rows={C[i]} top={topC[i]} x0={leftC[i]} haze={CH[i]} hazeColor={hazeColors[i + 4]} specks={CS[i]} gx={gateXC[i]} gy={gateYC[i]} q1={q1C[i]} q2={q2C[i]} q3={q3C[i]} q4={q4C[i]} />)}

      {/* B */}
      <Bars x1={752.3} x2={893} y1={50.7} y2={192} titleX={717} titleLh={20} title="Apoptotic cells (%)" titleSize={19} yMax={20} step={5} digits={0} tickLen={4.5} tickPad={3.5} xMin={-0.672} xMax={3.65} xH={26} xPad={4} xSize={20} cats={concLabels} capHalf={3.5} barPct={0.653} catPct={1}
        sets={[{ name: "Apoptotic cells", values: bValues, err: bErrTop, colors: concColors }]}
        marks={bStars.map((t, i) => ({ text: t, x: i, y: bStarAt[i], size: 14 }))} />
      <Txt x={906.7} y={203} s="(μM)" size={18.5} />

      {/* D */}
      <Bars x1={758.7} x2={899.3} y1={315.3} y2={455.7} titleX={721.7} titleLh={20} title="Apoptotic cells (%)" titleSize={19} yMax={20} step={5} digits={0} tickLen={4.7} tickPad={3.5} xMin={-0.67} xMax={3.63} xH={26} xPad={4} xSize={20} cats={concLabels} capHalf={5.5} barPct={0.653} catPct={1}
        sets={[{ name: "Apoptotic cells", values: dValues, err: dErrTop, colors: concColors }]}
        marks={dStars.map((t, i) => ({ text: t, x: i, y: dStarAt[i], size: i === 1 ? 26 : 14, color: i === 1 ? "#333" : "#666" }))} />
      <Txt x={913} y={466.7} s="(μM)" size={18.5} />

      {/* E */}
      <Txt x={173} y={529} s="U87" size={15} />
      <Rule x1={66} x2={315} y={540} />
      <Txt x={112} y={552} s="Control" size={19.2} />
      <Txt x={257} y={552} s="GNE-477" size={19} />
      <Txt x={509.7} y={528} s="U251" size={17.5} />
      <Rule x1={379.3} x2={628.7} y={539.3} />
      <Txt x={434} y={551.7} s="Control" size={19.2} />
      <Txt x={577} y={550.7} s="GNE-477" size={19} />
      <Txt x={12.7} y={616} s="Aggergates" size={20} bold={false} rot={90} color="#444" />
      <Txt x={12.5} y={732} s="Monmner" size={20} bold={false} rot={90} color="#444" />
      <Txt x={12.5} y={854} s="Merge" size={20} bold={false} rot={90} color="#444" />
      {fieldYs.map((y, r) => fieldXs.map((x, c) => <Field key={`${r}-${c}`} x={x} y={y} w={149} h={112} row={r} col={c} />))}
      <div style={{ position: "absolute", left: 662.5, top: 565, width: 1.5, height: 335, background: "#222" }} />
      <Txt x={673} y={737} s="200X" size={18} rot={90} />

      {/* F */}
      <Bars x1={778} x2={930.7} y1={648} y2={875} titleX={717} titleLh={16} title={["Relative mitochondrial", "membrance potential"]} titleSize={18.8} yMax={1.5} step={0.5} digits={1} tickLen={10} tickPad={1} xMin={-0.552} xMax={1.554} xH={28} xPad={8} xSize={17.5} cats={fCats} capHalf={3.5} barPct={0.823} catPct={0.8276}
        sets={[{ name: fSeries[0], values: fControl, err: fControlErr, colors: fColors[0] }, { name: fSeries[1], values: fGne, err: fGneErr, colors: fColors[1] }]}
        lines={fSigY.map((y, i) => ({ y, from: fSigFrom[i], to: fSigTo[i] }))}
        marks={[{ text: fSigStars[0], x: 0, y: 1.157, size: 13 }, { text: fSigStars[1], x: 1.108, y: 1.42, size: 13 }]} />
      <Rule x1={908} x2={929.7} y={624.7} h={2.6} color={fColors[0]} />
      <Rule x1={908} x2={929.7} y={637.7} h={2.6} color={fColors[1]} />
      <Txt x={934} y={622.7} s={fSeries[0]} size={15.3} left />
      <Txt x={934} y={639} s={fSeries[1]} size={15} left />
    </div>
  );
}
